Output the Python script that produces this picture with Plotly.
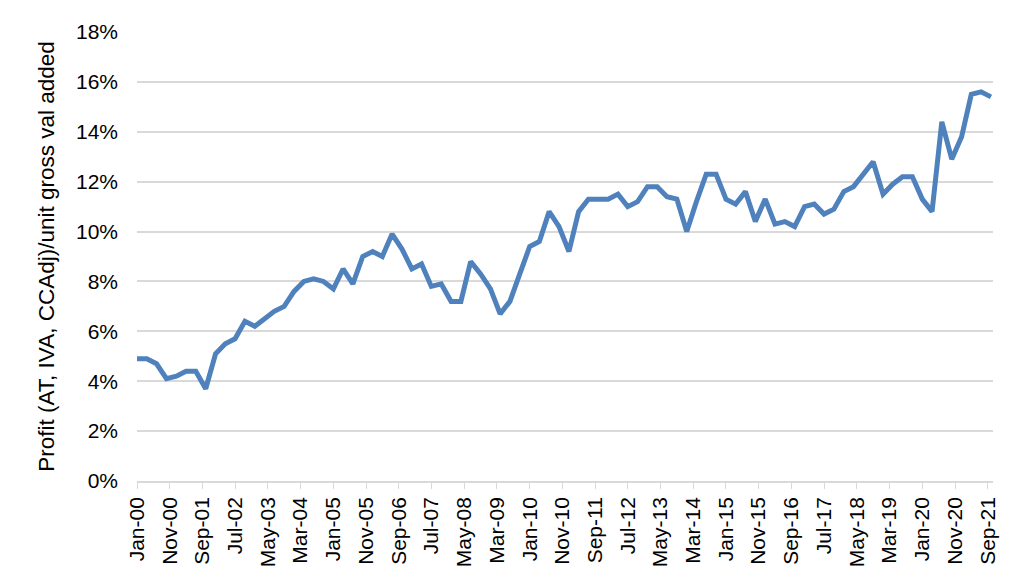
import pandas as pd
import plotly.graph_objects as go

# Quarterly observations, Q1 2000 .. Q4 2021 (percent)
start_date = "2000-01-01"
profit_share = [
    4.9, 4.9, 4.7, 4.1, 4.2, 4.4, 4.4, 3.7, 5.1, 5.5,
    5.7, 6.4, 6.2, 6.5, 6.8, 7.0, 7.6, 8.0, 8.1, 8.0,
    7.7, 8.5, 7.9, 9.0, 9.2, 9.0, 9.9, 9.3, 8.5, 8.7,
    7.8, 7.9, 7.2, 7.2, 8.8, 8.3, 7.7, 6.7, 7.2, 8.3,
    9.4, 9.6, 10.8, 10.2, 9.2, 10.8, 11.3, 11.3, 11.3, 11.5,
    11.0, 11.2, 11.8, 11.8, 11.4, 11.3, 10.0, 11.2, 12.3, 12.3,
    11.3, 11.1, 11.6, 10.4, 11.3, 10.3, 10.4, 10.2, 11.0, 11.1,
    10.7, 10.9, 11.6, 11.8, 12.3, 12.8, 11.5, 11.9, 12.2, 12.2,
    11.3, 10.8, 14.4, 12.9, 13.8, 15.5, 15.6, 15.4,
]
dates = pd.date_range(start_date, periods=len(profit_share), freq="QS")

y_title = "Profit (AT, IVA, CCAdj)/unit gross val added"
font_family = "Liberation Sans, Arial, sans-serif"

fig = go.Figure()
fig.add_trace(go.Scatter(
    x=dates, y=profit_share, mode="lines",
    line=dict(color="#4F81BD", width=5),
    showlegend=False,
))

fig.update_layout(
    width=1024, height=587,
    margin=dict(l=129, r=39, t=21, b=114, pad=0),
    paper_bgcolor="white", plot_bgcolor="white",
    font=dict(family=font_family, size=21, color="#000000"),
)
fig.update_xaxes(
    type="date",
    range=["2000-01-01", "2021-10-20"],
    tick0="2000-01-01", dtick="M10", tickformat="%b-%y",
    tickangle=-90,
    ticks="outside", ticklen=6, tickcolor="#D9D9D9", tickwidth=1.3,
    showline=True, linecolor="#D9D9D9", linewidth=1.5,
    showgrid=False, zeroline=False,
    tickfont=dict(size=21, color="#000000"),
)
fig.update_yaxes(
    range=[0, 18], dtick=2, ticksuffix="%",
    showgrid=True, gridcolor="#D9D9D9", gridwidth=1.5,
    zeroline=False, showline=False,
    ticklabelstandoff=18,
    tickfont=dict(size=21, color="#000000"),
    title=dict(text=y_title, font=dict(size=22.5, color="#000000"), standoff=15),
)

fig.write_html("out.html")
